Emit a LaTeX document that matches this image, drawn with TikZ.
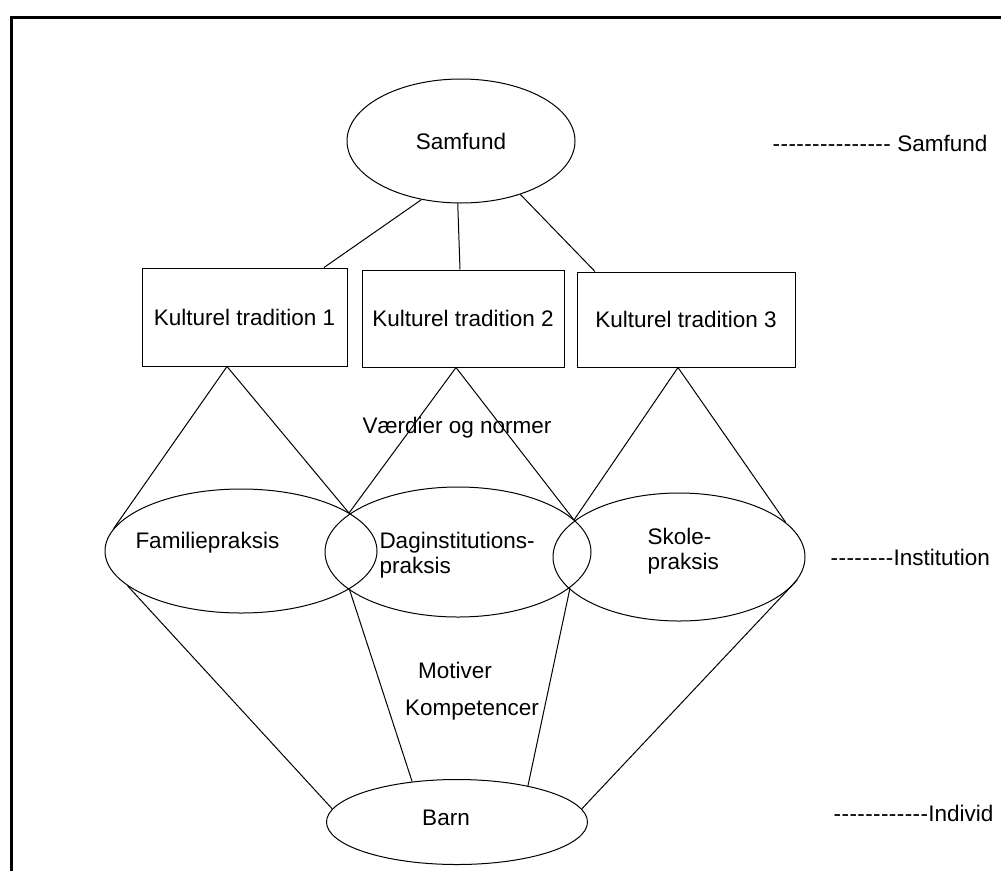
\documentclass[tikz,border=0pt]{standalone}
\usepackage{fontspec}
\setmainfont{Liberation Sans}
\usetikzlibrary{shapes.geometric}

\tikzset{
    oval/.style={draw, ellipse, inner sep=0pt},
    tradbox/.style={draw, rectangle, inner sep=0pt},
    lbl/.style={inner sep=0pt}
}
\newcommand{\dashrun}[1]{\foreach \k in {1,...,#1}{\makebox[7.9pt]{-}}}

\begin{document}
\begin{tikzpicture}[x=1pt, y=-1pt, line width=1pt, font=\fontsize{22.5}{25}\selectfont]
    \useasboundingbox (0,0) rectangle (1001,871);
    \draw[line width=3pt] (11,871) -- (11,17) -- (1001,17);

    \node[oval, minimum width=228, minimum height=124] (sam) at (461,141) {Samfund};

    \node[tradbox, minimum width=205, minimum height=98] (kt1) at (244.5,317) {Kulturel tradition 1};
    \node[tradbox, minimum width=202, minimum height=97] (kt2) at (463,318.5) {Kulturel tradition 2};
    \node[tradbox, minimum width=218, minimum height=95] (kt3) at (686,319.5) {Kulturel tradition 3};

    \draw (sam.236) -- ([xshift=79.5pt]kt1.north);
    \draw (sam.267) -- ([xshift=-3pt]kt2.north);
    \draw (sam.318) -- ([xshift=-91pt]kt3.north);

    \node[oval, minimum width=272, minimum height=124] (fam) at (241,551) {};
    \node[oval, minimum width=266, minimum height=130] (dag) at (458,552) {};
    \node[oval, minimum width=252, minimum height=128] (skole) at (679,557) {};

    \node[lbl, anchor=west] (famtxt) at (135,543) {Familiepraksis};
    \node[lbl, anchor=west, align=left] (dagtxt) at (379,555) {Daginstitutions-\\praksis};
    \node[lbl, anchor=west, align=left] (skoletxt) at (647,551) {Skole-\\praksis};

    \coordinate (up1) at (349,513);
    \coordinate (lo1) at (349,588);
    \coordinate (up2) at (574,520);
    \coordinate (lo2) at (570,588);

    \draw (fam.170) -- ([xshift=-17.5pt]kt1.south) -- (up1);
    \draw (up1) -- ([xshift=-7pt]kt2.south) -- (up2);
    \draw (up2) -- ([xshift=-8pt]kt3.south) -- (skole.18);

    \node[lbl] (vaerdi) at (457,428) {Værdier og normer};

    \node[oval, minimum width=261, minimum height=85] (barn) at (457,822) {};
    \node[lbl] (barntxt) at (446,818) {Barn};

    \draw (fam.197) -- (barn.174);
    \draw (lo1) -- (barn.138);
    \draw (lo2) -- (barn.27);
    \draw (skole.-11) -- (barn.6);

    \node[lbl] (motiv) at (455,670) {Motiver};
    \node[lbl] (komp) at (472,710) {Kompetencer};

    % niveauer til hoejre
    \node[lbl, anchor=west] (lvsam) at (772,143) {\dashrun{15} Samfund};
    \node[lbl, anchor=west] (lvinst) at (830,557) {\dashrun{8}Institution};
    \node[lbl, anchor=west] (lvind) at (833,813) {\dashrun{12}Individ};

\end{tikzpicture}
\end{document}
